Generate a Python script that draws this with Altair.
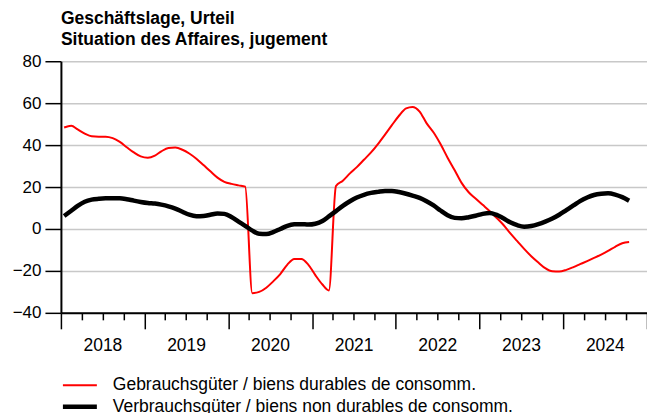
import altair as alt
import pandas as pd

# Monthly observations, Jan 2018 .. Oct 2024
start_year = 2018
n_months = 82

gebrauch = [
    48.4, 49.2, 47.5, 45.5, 44.2, 44.0, 44.0, 43.3, 41.5, 39.0, 36.5, 34.6,
    34.0, 35.0, 37.0, 38.6, 38.8, 37.8, 36.0, 33.5, 30.5, 27.5, 24.5, 22.5,
    21.5, 20.8, 20.2, -30.6, -30.0, -28.0, -25.0, -21.5, -17.0, -14.3, -14.3, -17.0,
    -22.0, -26.5, -29.3, 20.5, 23.0, 26.5, 29.5, 33.0, 36.5, 40.5, 45.0, 49.5,
    54.0, 57.5, 58.2, 56.0, 50.5, 46.0, 40.5, 34.0, 28.0, 22.0, 17.5, 14.5,
    11.5, 8.5, 5.5, 2.0, -2.0, -5.8, -9.5, -13.0, -16.0, -18.7, -20.2, -20.3,
    -19.5, -18.2, -16.8, -15.3, -13.8, -12.2, -10.5, -8.5, -6.8, -6.2,
]

verbrauch = [
    6.2, 8.7, 11.0, 13.0, 14.0, 14.4, 14.6, 14.6, 14.6, 14.2, 13.5, 12.9,
    12.4, 12.1, 11.6, 10.8, 9.7, 8.2, 6.8, 6.1, 6.2, 6.8, 7.4, 7.2,
    5.7, 3.5, 1.5, -0.8, -2.3, -2.4, -1.5, 0.0, 1.5, 2.2, 2.3, 2.1,
    2.5, 3.8, 6.0, 8.5, 11.0, 13.2, 15.0, 16.3, 17.2, 17.7, 18.1, 18.1,
    17.6, 16.8, 15.9, 14.8, 13.2, 11.2, 8.8, 6.6, 5.3, 5.1, 5.6, 6.3,
    7.2, 7.6, 6.8, 5.1, 3.2, 1.8, 1.1, 1.4, 2.3, 3.5, 5.0, 6.8,
    9.0, 11.2, 13.3, 15.0, 16.2, 16.8, 17.0, 16.4, 15.2, 13.5,
]

series_names = [
    "Gebrauchsgüter / biens durables de consomm.",
    "Verbrauchsgüter / biens non durables de consomm.",
]
series_colors = ["#ff0000", "#000000"]
series_widths = [2, 4.5]

title_lines = ["Geschäftslage, Urteil", "Situation des Affaires, jugement"]
y_ticks = [-40, -20, 0, 20, 40, 60, 80]
years = list(range(2018, 2026))

dates = [f"{start_year + i // 12}-{i % 12 + 1:02d}-15T00:00:00" for i in range(n_months)]

df = pd.concat([
    pd.DataFrame({"date": dates, "value": gebrauch, "series": series_names[0]}),
    pd.DataFrame({"date": dates, "value": verbrauch, "series": series_names[1]}),
])

quarter_values = [alt.DateTime(year=y, month=m, date=1)
                  for y in years for m in (1, 4, 7, 10) if not (y == 2025 and m > 1)]

FONT = "Liberation Sans"

legend_cfg = dict(
    title=None,
    orient="none",
    legendX=8,
    legendY=315,
    symbolType="M-2,0H2",
    symbolSize=289,
    labelFont=FONT,
    labelFontSize=17.5,
    labelColor="black",
    labelOffset=22,
    rowPadding=2,
    padding=0,
    labelLimit=600,
)

chart = alt.Chart(df).mark_line(interpolate="monotone", strokeCap="butt").encode(
    x=alt.X(
        "date:T",
        title=None,
        scale=alt.Scale(domain=[alt.DateTime(year=2018, month=1, date=1),
                                alt.DateTime(year=2025, month=1, date=1)], nice=False),
        axis=alt.Axis(
            values=quarter_values,
            labelExpr="month(datum.value) == 6 ? timeFormat(datum.value, '%Y') : ''",
            tickSize={"condition": {"test": "month(datum.value) == 0", "value": 16}, "value": 7},
            grid=False,
            domainColor="black",
            domainWidth=2,
            tickColor="black",
            tickWidth=1.5,
            labelPadding=17,
            labelFont=FONT,
            labelFontSize=17.5,
            labelColor="black",
            labelFlush=False,
            labelOverlap=False,
        ),
    ),
    y=alt.Y(
        "value:Q",
        title=None,
        scale=alt.Scale(domain=[-40, 80], nice=False),
        axis=alt.Axis(
            values=y_ticks,
            tickSize=16,
            tickColor="black",
            tickWidth=1.5,
            domainColor="black",
            domainWidth=2,
            labelPadding=4,
            labelFont=FONT,
            labelFontSize=17,
            labelColor="black",
            gridColor="#c8c8c8",
            gridWidth=1.5,
        ),
    ),
    color=alt.Color(
        "series:N",
        scale=alt.Scale(domain=series_names, range=series_colors),
        legend=alt.Legend(**legend_cfg),
    ),
    strokeWidth=alt.StrokeWidth(
        "series:N",
        scale=alt.Scale(domain=series_names, range=series_widths),
        legend=alt.Legend(**legend_cfg),
    ),
).properties(
    width=587,
    height=252,
    title=alt.TitleParams(
        title_lines,
        anchor="start",
        frame="group",
        font=FONT,
        fontSize=17.5,
        fontWeight="bold",
        color="black",
        lineHeight=21,
        offset=4,
    ),
    autosize=alt.AutoSizeParams(type="none"),
    padding={"left": 53, "top": 53, "right": 0, "bottom": 100},
).configure_view(stroke=None)

chart.save("out.html", embed_options={"renderer": "svg", "actions": False})
